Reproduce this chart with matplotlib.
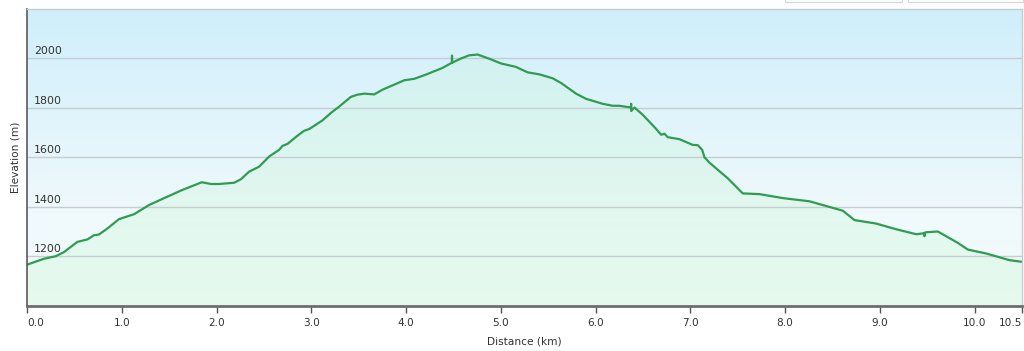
import numpy as np
import matplotlib
matplotlib.use("Agg")
import matplotlib.pyplot as plt
from matplotlib.colors import LinearSegmentedColormap
from matplotlib.patches import Rectangle

# ---- data ----
distance_km = [0.000, 0.180, 0.303, 0.391, 0.531, 0.637, 0.708, 0.760, 0.848, 0.971,
               1.130, 1.288, 1.465, 1.640, 1.845, 1.940, 2.027, 2.186, 2.257, 2.344,
               2.450, 2.555, 2.661, 2.696, 2.749, 2.854, 2.925, 2.978, 3.118, 3.207,
               3.295, 3.418, 3.488, 3.559, 3.664, 3.752, 3.981, 4.087, 4.210, 4.385,
               4.484, 4.485, 4.486, 4.580, 4.667, 4.755, 4.879, 5.002, 5.160, 5.283,
               5.407, 5.547, 5.636, 5.794, 5.900, 6.075, 6.181, 6.251, 6.374, 6.375,
               6.376, 6.410, 6.497, 6.621, 6.692, 6.727, 6.762, 6.885, 7.025, 7.078,
               7.125, 7.149, 7.202, 7.395, 7.553, 7.730, 7.976, 8.258, 8.434, 8.609,
               8.733, 8.962, 9.173, 9.384, 9.469, 9.470, 9.471, 9.490, 9.612, 9.736,
               9.823, 9.929, 10.124, 10.370, 10.493]
elevation_m = [1167, 1191, 1201, 1218, 1259, 1269, 1286, 1289, 1313, 1351,
               1371, 1408, 1439, 1469, 1500, 1493, 1493, 1498, 1512, 1543,
               1563, 1604, 1631, 1647, 1655, 1688, 1708, 1715, 1750, 1780,
               1806, 1845, 1854, 1858, 1855, 1874, 1912, 1918, 1935, 1962,
               1983, 2012, 1983, 2000, 2013, 2016, 1999, 1980, 1966, 1944,
               1936, 1920, 1901, 1858, 1837, 1817, 1809, 1809, 1802, 1817,
               1788, 1802, 1773, 1723, 1692, 1696, 1682, 1674, 1651, 1650,
               1631, 1601, 1579, 1516, 1455, 1452, 1436, 1423, 1404, 1385,
               1347, 1333, 1310, 1290, 1294, 1282, 1296, 1298, 1301, 1274,
               1255, 1228, 1212, 1185, 1179]

x_ticks = [0, 1, 2, 3, 4, 5, 6, 7, 8, 9, 10, 10.5]
x_tick_labels = ["0.0", "1.0", "2.0", "3.0", "4.0", "5.0", "6.0", "7.0", "8.0", "9.0", "10.0", "10.5"]
y_ticks = [1200, 1400, 1600, 1800, 2000]
y_tick_labels = ["1200", "1400", "1600", "1800", "2000"]

x_label = "Distance (km)"
y_label = "Elevation (m)"

XMIN, XMAX = 0, 10.5
YMIN, YMAX = 1000, 2200

W, H = 1024, 351
fig = plt.figure(figsize=(W / 100, H / 100), dpi=100)
fig.patch.set_facecolor("white")
ax = fig.add_axes([27 / W, 1 - 306 / H, (1022 - 27) / W, (306 - 9) / H])
ax.set_xlim(XMIN, XMAX)
ax.set_ylim(YMIN, YMAX)

# background gradient (light blue at top -> near white at bottom)
bg_cmap = LinearSegmentedColormap.from_list(
    "bg", [(0.0, "#f3fbf8"), (0.3, "#f0f9fc"), (1.0, "#cfeffb")])
grad = np.linspace(0, 1, 256).reshape(-1, 1)
ax.imshow(grad, cmap=bg_cmap, origin="lower", aspect="auto",
          extent=[XMIN, XMAX, YMIN, YMAX], zorder=0, interpolation="bicubic")

# area fill under the profile (pale green tint)
poly = ax.fill_between(distance_km, elevation_m, YMIN, color="none", zorder=1)
fill_cmap = LinearSegmentedColormap.from_list(
    "fill", [(0.0, (0.86, 0.98, 0.90, 0.55)), (1.0, (0.78, 0.95, 0.85, 0.30))])
img = ax.imshow(grad, cmap=fill_cmap, origin="lower", aspect="auto",
                extent=[XMIN, XMAX, YMIN, max(elevation_m)], zorder=1,
                interpolation="bicubic")
img.set_clip_path(poly.get_paths()[0], transform=ax.transData)

# grid lines
for yv in y_ticks:
    ax.axhline(yv, color="#c3cdd2", lw=1.0, zorder=2)

# profile line
ax.plot(distance_km, elevation_m, color="#2f9c52", lw=1.6, zorder=3,
        solid_joinstyle="round")

# spines
for s in ["top", "right"]:
    ax.spines[s].set_color("#c4ccd0")
    ax.spines[s].set_linewidth(1.0)
ax.spines["left"].set_color("#5a5a5a")
ax.spines["left"].set_linewidth(1.2)
ax.spines["bottom"].set_color("#6e6e6e")
ax.spines["bottom"].set_linewidth(2.0)
for s in ax.spines.values():
    s.set_zorder(4)

# x ticks
ax.set_xticks(x_ticks)
ax.set_xticklabels(x_tick_labels, fontsize=7.6, color="#333333")
ax.tick_params(axis="x", direction="out", length=5, width=1, color="#555555", pad=4)
xtl = ax.get_xticklabels()
xtl[0].set_horizontalalignment("left")
xtl[-1].set_horizontalalignment("right")

# y ticks: labels drawn inside, above gridlines
ax.set_yticks([])
for yv, lab in zip(y_ticks, y_tick_labels):
    ax.annotate(lab, xy=(0, yv), xycoords=("axes fraction", "data"),
                xytext=(7, 2), textcoords="offset pixels",
                ha="left", va="bottom", fontsize=7.9, color="#333333", zorder=5)

ax.set_xlabel(x_label, fontsize=7.6, color="#333333", labelpad=6)
ax.set_ylabel(y_label, fontsize=7.6, color="#333333", labelpad=5)

# small UI boxes at top right of the page
for x0, x1 in [(785, 902), (908, 1023)]:
    fig.patches.append(Rectangle((x0 / W, 1 - 2 / H), (x1 - x0) / W, 3 / H,
                                 transform=fig.transFigure, facecolor="white",
                                 edgecolor="#d6d6d6", lw=0.8))

fig.savefig("out.png", dpi=100)
